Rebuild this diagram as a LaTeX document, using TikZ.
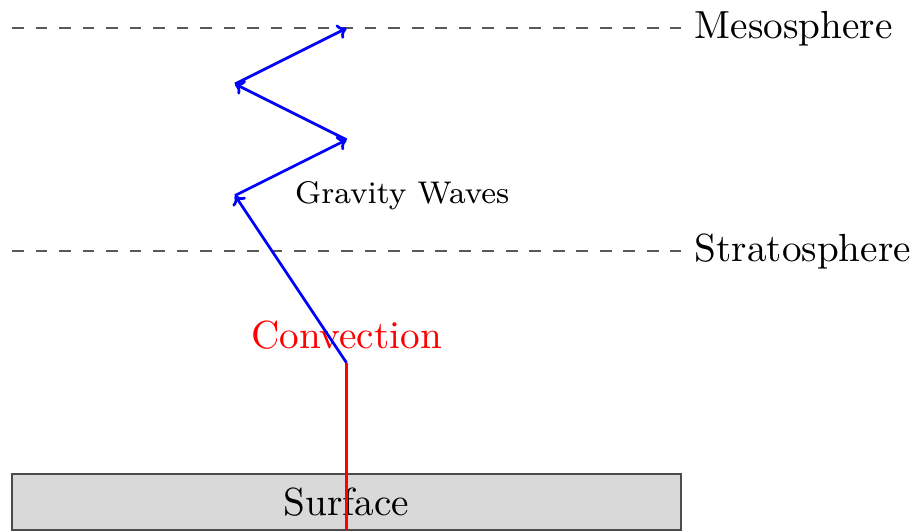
\documentclass[tikz,border=0pt]{standalone}
\usetikzlibrary{arrows.meta}
\begin{document}
\begin{tikzpicture}[
  layerline/.style={draw=black!65, line width=1.2pt, dash pattern=on 6pt off 6pt},
  bigtext/.style={scale=2, font=\normalsize},
  wave/.style={draw=blue, line width=1.4pt, -{To[length=4.5pt,width=8pt]}},
  conv/.style={draw=red, line width=1.2pt},
  ground/.style={draw=black!70, fill=black!15, line width=1.2pt}
]
\useasboundingbox (-0.215,0) rectangle (16.16,9.507);
% surface
\draw[ground] (0,0) rectangle (12,1);
\node[bigtext] (surface) at (6,0.5) {Surface};
% layers
\coordinate (s0) at (0,5);
\coordinate (s1) at (12,5);
\coordinate (m0) at (0,9);
\coordinate (m1) at (12,9);
\draw[layerline] (s0) -- (s1);
\draw[layerline] (m0) -- (m1);
\node[bigtext, anchor=west] (strat) at (s1) {Stratosphere};
\node[bigtext, anchor=west] (meso) at (m1) {Mesosphere};
% convection
\coordinate (base) at (6,0);
\coordinate (top) at (6,3);
\draw[conv] (base) -- (top);
\node[bigtext, anchor=south, text=red] (convlbl) at (top) {Convection};
% gravity waves
\coordinate (w1) at (4,6);
\coordinate (w2) at (6,7);
\coordinate (w3) at (4,8);
\coordinate (w4) at (6,9);
\draw[wave] (top) -- (w1);
\draw[wave] (w1) -- (w2);
\draw[wave] (w2) -- (w3);
\draw[wave] (w3) -- (w4);
\node[scale=2, font=\footnotesize] (gw) at (7,6) {Gravity Waves};
\end{tikzpicture}
\end{document}
